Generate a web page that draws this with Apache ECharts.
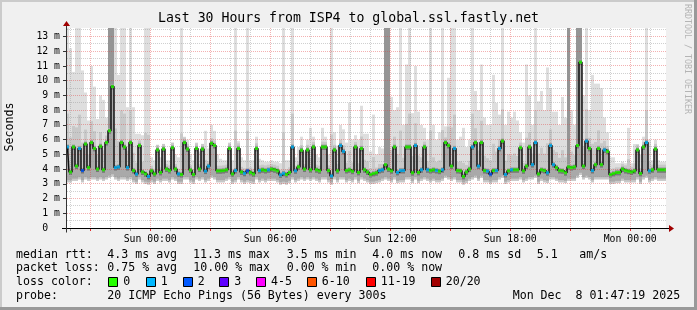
<!DOCTYPE html>
<html><head><meta charset="utf-8">
<script src="https://cdn.jsdelivr.net/npm/echarts@6/dist/echarts.min.js"></script>
<style>html,body{margin:0;padding:0;background:#f0f0f0}#c{width:697px;height:310px}</style>
</head><body><div id="c"></div>
<script>
// ---- time frame (hours since Sat 00:00) ----
const START_HOUR = 19 + 47/60 + 19/3600;   // Sat 19:47:19
const END_HOUR = START_HOUR + 30;           // Mon 01:47:19
const STEP_HOURS = 0.15;                    // 9 minute bins
const Y_MAX = 13.58;

// ---- median rtt per bin (ms) ----
const medians = [
5.5,3.8,5.5,4.2,5.4,3.9,5.7,4.1,5.8,5.4, 4.0,5.55,3.95,5.8,6.6,9.6,4.1,4.15,5.8,5.5,
4.1,5.8,3.9,3.66,5.6,3.8,3.67,3.5,3.88,3.67, 5.3,3.77,5.36,4.0,3.9,5.45,4.0,3.67,3.63,5.8,
5.36,3.93,3.63,5.4,4.0,5.36,3.86,4.2,5.75,5.6, 3.88,3.88,3.9,3.95,5.4,3.67,3.9,5.4,3.8,3.71,
3.88,3.77,3.67,5.4,3.9,3.95,3.9,3.95,4.0,3.95, 3.88,3.6,3.71,3.63,3.77,5.5,3.88,4.15,5.28,4.0,
5.3,3.95,5.5,3.95,3.88,5.5,5.5,3.9,3.53,5.3, 3.88,5.6,5.2,3.9,3.95,3.85,5.5,3.77,5.4,3.95,
3.8,3.63,3.7,3.75,3.9,3.95,4.3,4.0,3.88,5.5, 3.77,3.9,3.9,5.5,5.5,3.75,5.6,3.77,3.95,5.5,
3.95,3.9,3.95,3.9,3.85,3.95,5.8,5.6,4.2,5.4, 3.9,3.88,3.5,3.8,4.0,5.5,5.8,4.2,5.8,3.9,
3.86,3.65,3.9,3.9,5.4,5.9,3.63,3.88,3.95,3.95, 3.95,5.45,3.88,4.2,5.5,4.3,5.8,3.67,3.95,3.9,
3.75,5.6,4.3,4.1,3.9,3.88,3.75,4.15,4.1,4.15, 5.6,11.26,4.2,5.9,5.4,3.9,4.3,5.4,4.3,5.3,
5.2,3.63,3.7,3.77,3.77,4.0,3.9,3.85,3.8,3.88, 5.3,3.7,5.5,5.8,3.88,3.95,5.36,3.95,3.95,3.95
];
// ---- lost pings (of 20) per bin ----
const loss = [
1,0,0,0,1,2,0,0,0,0, 0,0,0,0,0,0,1,1,0,0,
1,0,0,1,0,0,0,1,0,0, 0,0,0,0,0,0,0,1,0,0,
0,0,0,0,0,0,1,1,0,0, 0,0,0,0,0,0,1,0,0,1,
2,0,0,0,1,0,0,1,0,0, 0,1,1,0,0,1,1,0,0,0,
0,0,0,0,0,0,0,0,1,0, 0,1,1,0,0,0,0,0,0,0,
0,0,0,0,1,1,0,0,0,0, 1,1,1,0,0,0,1,0,1,0,
1,0,0,1,0,1,0,0,0,1, 0,0,0,0,0,1,0,1,0,0,
1,2,0,1,1,0,1,0,1,0, 0,0,0,0,0,1,1,0,0,0,
1,1,1,0,0,0,0,0,0,0, 0,0,0,1,0,1,0,0,0,1,
0,0,0,0,0,0,0,0,0,0, 0,0,0,1,1,0,0,0,0,0
];
// ---- fastest ping per bin (ms) ----
const smokeMin = [
3.1,3.1,3.2,3.2,3.3,3.1,3.3,3.2,3.3,3.3, 3.2,3.3,3.2,3.3,3.4,3.5,3.3,3.2,3.3,3.3,
3.2,3.3,3.1,3.0,3.3,3.1,3.0,2.95,3.1,3.0, 3.2,3.1,3.2,3.2,3.1,3.3,3.2,3.0,3.0,3.3,
3.3,3.1,3.0,3.3,3.2,3.3,3.1,3.2,3.4,3.3, 3.1,3.1,3.1,3.2,3.3,3.0,3.1,3.3,3.1,3.0,
3.1,3.05,3.0,3.3,3.1,3.2,3.1,3.2,3.2,3.2, 3.1,2.95,3.0,2.95,3.05,3.3,3.1,3.2,3.3,3.2,
3.3,3.2,3.3,3.2,3.1,3.3,3.3,3.1,2.95,3.3, 3.1,3.3,3.3,3.1,3.2,3.1,3.3,3.05,3.3,3.2,
3.1,3.0,3.0,3.05,3.1,3.2,3.3,3.2,3.1,3.3, 3.05,3.1,3.1,3.3,3.3,3.05,3.3,3.05,3.2,3.3,
3.2,3.1,3.2,3.1,3.1,3.2,3.4,3.3,3.2,3.3, 3.1,3.1,2.95,3.05,3.2,3.3,3.4,3.2,3.4,3.1,
3.1,3.0,3.1,3.1,3.3,3.4,3.0,3.1,3.2,3.2, 3.2,3.3,3.1,3.2,3.3,3.3,3.4,3.0,3.2,3.1,
3.05,3.3,3.3,3.2,3.1,3.1,3.05,3.2,3.2,3.2, 3.4,3.6,3.3,3.4,3.3,3.1,3.3,3.3,3.3,3.3,
3.3,3.0,3.0,3.05,3.05,3.2,3.1,3.1,3.1,3.1, 3.3,3.0,3.3,3.4,3.1,3.2,3.3,3.2,3.2,3.2
];
// ---- slowest ping per bin (ms) ----
const smokeMax = [
13.6,12.2,10.6,13.6,13.6,10.7,9.2,7.3,11.0,9.6, 7.4,9.0,8.7,7.5,13.6,13.6,13.6,10.4,13.6,13.6,
8.2,13.6,8.2,6.4,6.4,6.3,13.6,13.6,4.8,4.6, 5.6,4.8,5.5,4.6,4.6,5.7,5.0,4.8,13.6,6.2,
6.0,5.0,4.6,5.8,5.2,5.6,6.6,5.4,7.0,6.6, 5.0,4.7,4.6,4.6,5.8,4.6,13.6,5.9,4.8,4.6,
13.6,4.6,4.6,6.2,4.7,4.6,4.5,4.5,4.6,4.5, 4.5,4.4,13.6,4.6,4.6,13.6,4.8,5.5,6.2,5.2,
6.0,6.8,6.2,5.0,4.8,6.8,6.2,5.0,13.6,6.5, 5.6,7.0,6.7,5.8,8.5,6.0,6.3,6.0,8.3,6.4,
6.4,5.2,7.7,5.0,5.5,5.4,13.6,13.6,8.9,8.0, 8.2,13.6,7.0,11.1,13.6,7.8,11.0,7.9,7.0,6.8,
6.0,13.6,7.0,6.0,6.5,13.6,6.9,10.2,13.6,13.6, 6.0,6.2,6.8,5.5,6.0,13.6,9.3,8.0,11.1,7.5,
7.0,7.0,10.4,8.5,7.7,13.6,7.0,7.9,7.5,7.9, 7.3,6.5,5.8,11.1,9.0,7.0,13.6,8.6,9.3,8.0,
10.9,9.5,7.9,7.9,7.0,8.9,7.5,13.6,8.0,7.0, 13.6,13.6,9.0,13.6,8.0,10.4,9.8,9.8,9.5,7.5,
6.5,4.8,4.8,4.4,4.4,4.5,4.4,6.8,4.4,5.7, 5.7,5.0,6.2,13.6,6.0,4.6,6.0,4.6,4.5,4.5
];
// ---- bins whose whole ping spread is dense (dark smoke) : [bin, top ms] ----
const denseBins = [[14,13.6],[15,13.6],[106,13.6],[107,13.6],[167,13.6],[170,13.6],[171,13.6]];

// ---- axis ticks / labels ----
const xLabelHours = [24, 30, 36, 42, 48];
const xLabels = ['Sun 00:00', 'Sun 06:00', 'Sun 12:00', 'Sun 18:00', 'Mon 00:00'];
const yLabelValues = [0,1,2,3,4,5,6,7,8,9,10,11,12,13];

// ---- loss legend ----
const lossLabels = ['0', '1', '2', '3', '4-5', '6-10', '11-19', '20/20'];
const lossColors = ['#26ff00', '#00b8ff', '#0059ff', '#5e00ff', '#ff00ff', '#ff5500', '#ff0000', '#a10000'];

// ---- legend text ----
const legendRows = [
  [['median rtt:',16],['4.3 ms avg',107.3],['11.3 ms max',193],['3.5 ms min',286.7],['4.0 ms now',372.3],['0.8 ms sd',458.3],['5.1',536.7],['am/s',579.3]],
  [['packet loss:',16],['0.75 % avg',107.3],['10.00 % max',193.3],['0.00 % min',286.7],['0.00 % now',372.3]],
  [['loss color:',16]],
  [['probe:',16],['20 ICMP Echo Pings (56 Bytes) every 300s',107.3],['Mon Dec  8 01:47:19 2025',512.7]]
];
const titleText = 'Last 30 Hours from ISP4 to global.ssl.fastly.net';

function lossIndex(n){ if(n<=3) return n; if(n<=5) return 4; if(n<=10) return 5; if(n<20) return 6; return 7; }

const G = {left:66, top:28, width:600, height:200};
const MONO = '"DejaVu Sans Mono", monospace';
const PINK = 'rgba(225,60,60,0.4)';
const GRAY = 'rgba(150,150,150,0.45)';

const denseTop = {}; denseBins.forEach(d => denseTop[d[0]] = d[1]);
const smokeData = medians.map((m,i) => [START_HOUR + i*STEP_HOURS, m, smokeMin[i], smokeMax[i], loss[i], i]);
const medData = medians.map((m,i) => [START_HOUR + (i+0.5)*STEP_HOURS, m, loss[i]]);
const hourLines = []; for (let h = Math.ceil(START_HOUR); h <= END_HOUR; h++) hourLines.push([h, 0]);
const yLines = []; for (let k = 1; k * 0.5 < Y_MAX; k++) yLines.push([START_HOUR, k*0.5]);

const chart = echarts.init(document.getElementById('c'), null, {renderer:'canvas', width:697, height:310});

const graphics = [];
// frame
graphics.push({type:'rect', shape:{x:0,y:0,width:697,height:2}, style:{fill:'#cbcbcb'}, z:100});
graphics.push({type:'rect', shape:{x:0,y:0,width:2,height:310}, style:{fill:'#cbcbcb'}, z:100});
graphics.push({type:'rect', shape:{x:0,y:307,width:697,height:3}, style:{fill:'#999999'}, z:100});
graphics.push({type:'rect', shape:{x:694,y:0,width:3,height:310}, style:{fill:'#999999'}, z:100});
// axes
const x0 = G.left + 0.5, yb = G.top + G.height + 0.5;
graphics.push({type:'line', shape:{x1:G.left-4, y1:yb, x2:G.left+G.width+5, y2:yb}, style:{stroke:'#000', lineWidth:1}, z:50});
graphics.push({type:'line', shape:{x1:x0, y1:yb+4, x2:x0, y2:G.top-4}, style:{stroke:'#333', lineWidth:1}, z:50});
graphics.push({type:'polygon', shape:{points:[[G.left+G.width+3,yb-3.5],[G.left+G.width+3,yb+3.5],[G.left+G.width+8,yb]]}, style:{fill:'#a00000'}, z:51});
graphics.push({type:'polygon', shape:{points:[[x0-3.5,G.top-2],[x0+3.5,G.top-2],[x0,G.top-7]]}, style:{fill:'#a00000'}, z:51});
// title
graphics.push({type:'text', x:348.5, y:19, style:{text:titleText, font:'13.2px '+MONO, fill:'#000', align:'center', verticalAlign:'middle'}, z:60});
// y title
graphics.push({type:'text', x:10, y:127, rotation:Math.PI/2, style:{text:'Seconds', font:'11.6px '+MONO, fill:'#000', align:'center', verticalAlign:'middle'}, z:60});
// watermark
graphics.push({type:'text', x:687, y:59, rotation:-Math.PI/2, style:{text:'RRDTOOL / TOBI OETIKER', font:'8.3px '+MONO, fill:'#b4b4b4', align:'center', verticalAlign:'middle'}, z:60});
// legend
const rowY = [254.5, 268.3, 282.3, 295.5];
legendRows.forEach((row, r) => row.forEach(([t, x]) => {
  graphics.push({type:'text', x:x, y:rowY[r], style:{text:t, font:'11.6px '+MONO, fill:'#000', align:'left', verticalAlign:'middle'}, z:60});
}));
const boxX = [108.3, 145.7, 182.7, 219.3, 256, 306.7, 365.7, 430.7];
lossLabels.forEach((lab, k) => {
  graphics.push({type:'rect', shape:{x:Math.round(boxX[k])+0.5, y:277.5, width:9, height:9}, style:{fill:lossColors[k], stroke:'#000', lineWidth:1}, z:60});
  graphics.push({type:'text', x:boxX[k]+15, y:rowY[2], style:{text:lab, font:'11.6px '+MONO, fill:'#000', align:'left', verticalAlign:'middle'}, z:60});
});

const option = {
  animation:false,
  backgroundColor:'#f0f0f0',
  grid:{left:G.left, top:G.top, width:G.width, height:G.height, show:true, backgroundColor:'#ffffff', borderWidth:0},
  xAxis:{type:'value', min:START_HOUR, max:END_HOUR,
    axisLine:{show:false}, axisTick:{show:false}, splitLine:{show:false},
    axisLabel:{show:true, customValues:xLabelHours, formatter:v => xLabels[xLabelHours.indexOf(v)] || '', fontFamily:MONO, fontSize:9.8, color:'#000', margin:6}},
  yAxis:{type:'value', min:0, max:Y_MAX,
    axisLine:{show:false}, splitLine:{show:false},
    axisTick:{show:true, customValues:yLabelValues, length:3, lineStyle:{color:'#333'}},
    axisLabel:{show:true, customValues:yLabelValues, formatter:v => v === 0 ? '0  ' : v + ' m', fontFamily:MONO, fontSize:9.8, color:'#000', margin:6}},
  graphic:graphics,
  series:[
    { // smoke
      type:'custom', z:2, clip:true, silent:true, data:smokeData,
      renderItem:(params, api) => {
        const t = api.value(0), med = api.value(1), lo = api.value(2), hi = api.value(3), i = api.value(5);
        const xa = api.coord([t, 0])[0], xb = api.coord([t + STEP_HOURS, 0])[0];
        const band = (a, b, fill) => { const ya = api.coord([t, b])[1], yb2 = api.coord([t, a])[1];
          return {type:'rect', shape:{x:xa, y:ya, width:xb-xa, height:yb2-ya}, style:{fill:fill}}; };
        const mid = med + 0.28 * (hi - med);
        const ch = [band(lo, hi, '#dedede'), band(lo, Math.max(mid, med + 0.35), '#c8c8c8')];
        if (denseTop[i] !== undefined) ch.push(band(med, denseTop[i], '#959595'));
        ch.push(band(lo + 0.15, med + 0.18, '#a9a9a9'));
        ch.push(band(med - 0.2, med + 0.12, '#767676'));
        return {type:'group', children:ch};
      }
    },
    { // vertical grid
      type:'custom', z:4, clip:false, silent:true, data:hourLines,
      renderItem:(params, api) => {
        const h = api.value(0);
        const top = api.coord([h, Y_MAX]), bot = api.coord([h, 0]);
        const x = Math.floor(top[0]) + 0.5;
        const major = Math.round(h) % 3 === 0;
        return {type:'group', children:[
          {type:'line', shape:{x1:x, y1:top[1], x2:x, y2:bot[1]}, style:{stroke:major ? PINK : GRAY, lineWidth:1, lineDash:[1,1]}},
          {type:'line', shape:{x1:x, y1:bot[1]+1, x2:x, y2:bot[1]+3}, style:{stroke:major ? '#e03030' : '#999', lineWidth:1}}
        ]};
      }
    },
    { // horizontal grid
      type:'custom', z:4, clip:false, silent:true, data:yLines,
      renderItem:(params, api) => {
        const v = api.value(1);
        const p = api.coord([START_HOUR, v]), q = api.coord([END_HOUR, v]);
        const y = Math.floor(p[1]) + 0.5;
        const major = Math.abs(v - Math.round(v)) < 1e-6;
        return {type:'line', shape:{x1:p[0]+1, y1:y, x2:q[0], y2:y}, style:{stroke:major ? PINK : GRAY, lineWidth:1, lineDash:[1,1]}};
      }
    },
    { // median line
      type:'line', z:5, silent:true, step:'middle', data:medData, symbol:'none',
      lineStyle:{color:'#111', width:1.5}
    },
    { // median dots coloured by loss
      type:'scatter', z:6, silent:true, data:medData, symbol:'rect', symbolSize:[3,3],
      itemStyle:{color:p => lossColors[lossIndex(p.value[2])]}
    }
  ]
};
chart.setOption(option);
</script></body></html>
